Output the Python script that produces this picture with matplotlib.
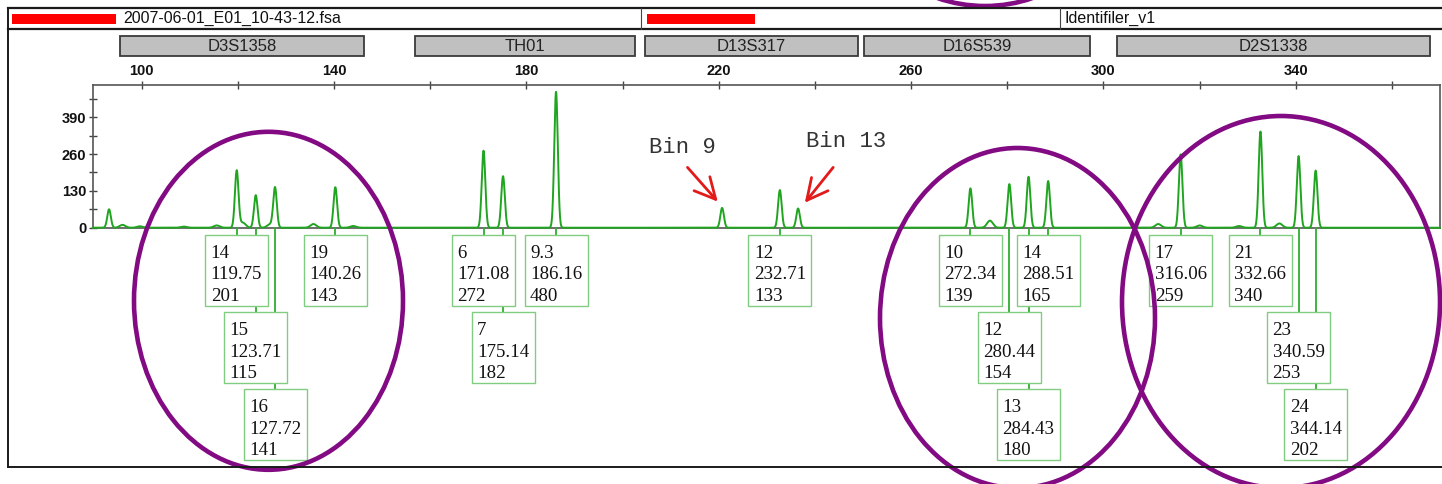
import matplotlib
matplotlib.use("Agg")
import numpy as np
import matplotlib.pyplot as plt
from matplotlib.patches import Rectangle, Ellipse
from matplotlib.transforms import blended_transform_factory

# ---------------- data ----------------
file_name = "2007-06-01_E01_10-43-12.fsa"
panel_name = "Identifiler_v1"

loci = ["D3S1358", "TH01", "D13S317", "D16S539", "D2S1338"]
locus_start = [95.5, 156.8, 204.7, 250.2, 302.8]
locus_end = [146.2, 202.6, 249.0, 297.2, 368.0]

allele_labels = ["14", "15", "16", "19", "6", "7", "9.3", "12",
                 "10", "12", "13", "14", "17", "21", "23", "24"]
allele_sizes = [119.75, 123.71, 127.72, 140.26, 171.08, 175.14, 186.16, 232.71,
                272.34, 280.44, 284.43, 288.51, 316.06, 332.66, 340.59, 344.14]
allele_heights = [201, 115, 141, 143, 272, 182, 480, 133,
                  139, 154, 180, 165, 259, 340, 253, 202]
label_rows = [0, 1, 2, 0, 0, 1, 0, 0, 0, 1, 2, 0, 0, 0, 1, 2]

bin_peak_sizes = [220.7, 236.5]
bin_peak_heights = [70, 68]
bin_labels = ["Bin 9", "Bin 13"]

minor_peak_sizes = [93.2, 96.0, 99.6, 108.7, 115.6, 121.0, 126.7, 135.7, 144.0,
                    276.4, 311.4, 320.0, 328.2, 336.6]
minor_peak_heights = [65, 10, 5, 4, 8, 18, 12, 13, 6, 25, 13, 8, 6, 15]

size_ticks = list(range(100, 361, 20))
size_tick_labels = ["100", "", "140", "", "180", "", "220", "", "260", "", "300", "", "340", ""]
rfu_ticks = [0, 65, 130, 195, 260, 325, 390, 455]
rfu_tick_labels = ["0", "", "130", "", "260", "", "390", ""]

# ---------------- layout ----------------
W, H = 1442, 484
fig = plt.figure(figsize=(W / 100, H / 100), dpi=100)
fig.patch.set_facecolor("white")

PL, PR, PT, PB, LB = 92.7, 1440.0, 85.0, 227.7, 467.3
ax = fig.add_axes([PL / W, 1 - PB / H, (PR - PL) / W, (PB - PT) / H])
axl = fig.add_axes([PL / W, 1 - LB / H, (PR - PL) / W, (LB - PB) / H], sharex=ax)
ov = fig.add_axes([0, 0, 1, 1], zorder=10)
ov.set_xlim(0, W)
ov.set_ylim(H, 0)
ov.axis("off")
ov.patch.set_alpha(0)

XMIN, XMAX = 89.8, 370.0
ax.set_xlim(XMIN, XMAX)
ax.set_ylim(0, 504)

# trace
green = "#1fa51f"
xs = np.arange(XMIN, XMAX, 0.04)
trace = np.zeros_like(xs)
for p, h in zip(allele_sizes + bin_peak_sizes, allele_heights + bin_peak_heights):
    trace += h * np.exp(-0.5 * ((xs - p) / 0.37) ** 2)
for p, h in zip(minor_peak_sizes, minor_peak_heights):
    s = 0.37 if h > 30 else 0.6
    trace += h * np.exp(-0.5 * ((xs - p) / s) ** 2)
ax.plot(xs, trace, color=green, lw=1.4, zorder=3, clip_on=False)

spc = "#555555"
for sp in ["left", "top", "right", "bottom"]:
    ax.spines[sp].set_color(spc)
    ax.spines[sp].set_linewidth(1.2)
ax.xaxis.tick_top()
ax.set_xticks(size_ticks)
ax.set_xticklabels(size_tick_labels)
ax.set_yticks(rfu_ticks)
ax.set_yticklabels(rfu_tick_labels)
ax.tick_params(axis="x", direction="inout", length=6, width=1, color="#444", pad=2,
               labelsize=10.5, labelcolor="#111")
ax.tick_params(axis="y", direction="inout", length=6, width=1, color="#444", pad=1.5,
               labelsize=10.5, labelcolor="#111")
for lab in ax.get_xticklabels() + ax.get_yticklabels():
    lab.set_fontfamily("Liberation Sans")
    lab.set_fontweight("bold")
ax.set_facecolor("none")

# arrows and bin labels
red = "#e31a1a"
arrow_tails = [(213.5, 213), (243.8, 213)]
arrow_tips = [(219.8, 92), (237.9, 88)]
text_pos = [(205.4, 263), (238.1, 286)]
for lab, (tx, ty), (sx, sy), (ex, ey) in zip(bin_labels, text_pos, arrow_tails, arrow_tips):
    ax.annotate("", xy=(ex, ey), xytext=(sx, sy), annotation_clip=False,
                arrowprops=dict(arrowstyle="->,head_length=0.75,head_width=0.38",
                                color=red, lw=2.0, mutation_scale=20,
                                shrinkA=0, shrinkB=0))
    ax.text(tx, ty, lab, fontfamily="Liberation Mono", fontsize=16, color="#333333",
            ha="left", va="baseline")

# lower allele-call boxes
axl.set_ylim(LB - PB, 0)
axl.axis("off")
row_tops = [7.3, 84.6, 161.6]
box_h = 70.6
px_per_bp = (PR - PL) / (XMAX - XMIN)
box_w = 63.0 / px_per_bp
line_off = [22.7, 44.3, 66.0]
for lab, s, h, r in zip(allele_labels, allele_sizes, allele_heights, label_rows):
    top = row_tops[r]
    axl.plot([s, s], [0, top], color="#2fae2f", lw=1.3, zorder=2, clip_on=False)
    axl.add_patch(Rectangle((s - box_w / 2, top), box_w, box_h, facecolor="white",
                            edgecolor="#80cc80", lw=1.0, zorder=3, clip_on=False))
    for txt, off in zip([lab, f"{s:.2f}", str(h)], line_off):
        axl.text(s - box_w / 2 + 5.5 / px_per_bp, top + off, txt, fontfamily="Liberation Serif",
                 fontsize=13.6, color="#111111", ha="left", va="baseline", zorder=4)

# header / frame
fc = "#1a1a1a"
ov.plot([7.5, W], [7.5, 7.5], color=fc, lw=1.6)
ov.plot([7.5, W], [28.7, 28.7], color=fc, lw=1.6)
ov.plot([7.5, 7.5], [7.5, LB], color=fc, lw=1.4)
ov.plot([7.5, W], [LB, LB], color=fc, lw=1.4)
for xd in [641, 1060]:
    ov.plot([xd, xd], [7.5, 28.7], color="#444444", lw=0.8)
ov.add_patch(Rectangle((11.7, 14), 104.3, 10.3, facecolor="#ff0000", edgecolor="none"))
ov.add_patch(Rectangle((647, 13.5), 108, 10.5, facecolor="#ff0000", edgecolor="none"))
ov.text(123, 18.8, file_name, fontfamily="Liberation Sans", fontsize=11.5, color="#111",
        va="center", ha="left")
ov.text(1065, 18.8, panel_name, fontfamily="Liberation Sans", fontsize=11.5, color="#111",
        va="center", ha="left")

# locus bars
bt = blended_transform_factory(ax.transData, ov.transData)
for name, a, b in zip(loci, locus_start, locus_end):
    ov.add_patch(Rectangle((a, 36), b - a, 20, transform=bt, facecolor="#c0c0c0",
                           edgecolor="#3a3a3a", lw=1.3, clip_on=False))
    ov.text((a + b) / 2, 46.5, name, transform=bt, fontfamily="Liberation Sans",
            fontsize=12, color="#222", ha="center", va="center", clip_on=False)

# purple highlight ellipses
purple = "#820a82"
for (cx, cy, ew, eh) in [(268.5, 300.8, 269, 338), (1017.5, 318, 275, 340),
                         (1281, 302, 318, 372), (985, -100, 250, 212)]:
    ov.add_patch(Ellipse((cx, cy), ew, eh, facecolor="none", edgecolor=purple, lw=3.3))

fig.savefig("out.png", dpi=100, facecolor="white")
